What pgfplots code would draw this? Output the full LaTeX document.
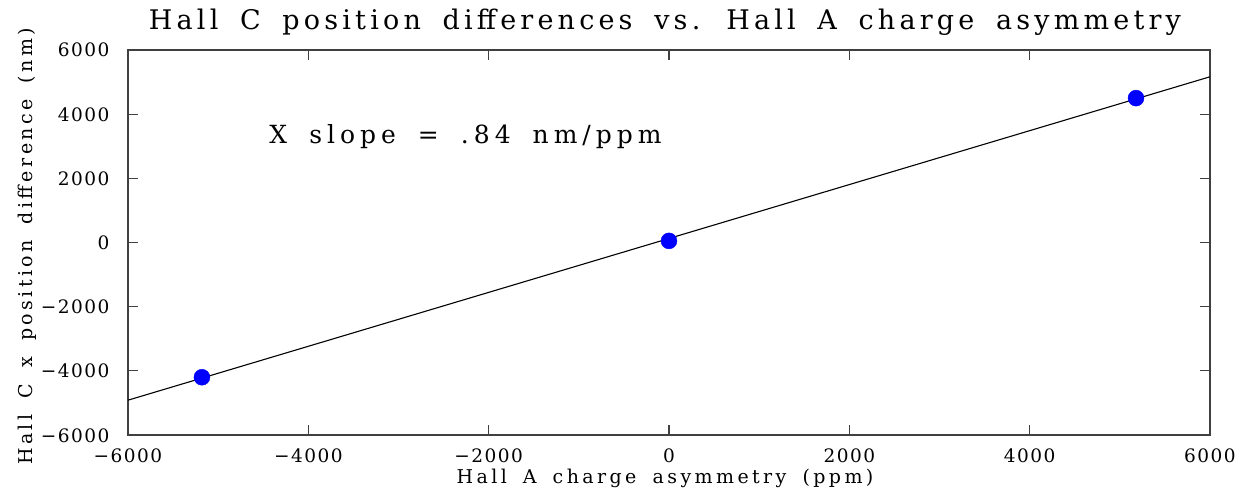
\documentclass[border=0pt]{standalone}
\usepackage{fontspec}
\setmainfont{DejaVu Serif}[LetterSpace=18,WordSpace=1.7]
\usepackage{pgfplots}
\pgfplotsset{compat=1.18}
\begin{document}
\begin{tikzpicture}
\path[use as bounding box] (-128bp,-61bp) rectangle (1109bp,435bp);
\begin{axis}[
  at={(0,0)}, anchor=south west,
  scale only axis, width=1082bp, height=385bp,
  xmin=-6000, xmax=6000, ymin=-6000, ymax=6000,
  xtick={-6000,-4000,...,6000}, ytick={-6000,-4000,...,6000},
  xticklabels={−6000,−4000,−2000,0,2000,4000,6000},
  yticklabels={−6000,−4000,−2000,0,2000,4000,6000},
  tick align=inside, major tick length=10bp,
  tick style={line width=1.2bp, color=black!75},
  axis line style={line width=1.5bp, color=black!75},
  tick label style={font=\fontsize{18.5bp}{22bp}\selectfont\addfontfeatures{LetterSpace=8}},
  xticklabel style={anchor=base, yshift=-27bp},
  yticklabel style={anchor=base east, xshift=-15bp, yshift=-7bp},
  clip=false,
]
\addplot[black, line width=1.1bp] coordinates {(-6000,-4915) (6000,5165)};
\addplot[only marks, mark=*, mark size=8bp, color=blue, mark options={fill=blue, draw=blue}] coordinates {(-5180,-4200) (0,50) (5180,4500)};
\node[anchor=base, font=\fontsize{27bp}{32bp}\selectfont\addfontfeatures{LetterSpace=15.5}] at ([yshift=20bp]rel axis cs:0.4963,1) {Hall C position differences vs. Hall A charge asymmetry};
\node[anchor=base west, font=\fontsize{25bp}{30bp}\selectfont\addfontfeatures{LetterSpace=20}] at (axis cs:-4470,3100) {X slope = .84 nm/ppm};
\node[anchor=base, font=\fontsize{19bp}{24bp}\selectfont] at ([yshift=-48bp]rel axis cs:0.4963,0) {Hall A charge asymmetry (ppm)};
\node[anchor=base, rotate=90, font=\fontsize{19bp}{24bp}\selectfont] at ([xshift=-95bp]rel axis cs:0,0.49) {Hall C x position difference (nm)};
\end{axis}
\end{tikzpicture}
\end{document}
